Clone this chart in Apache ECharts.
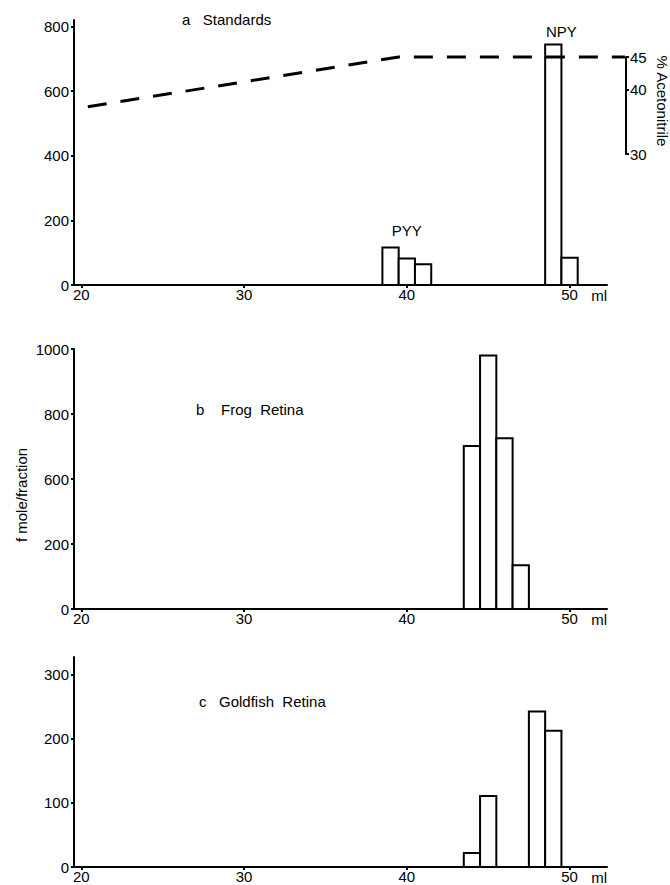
<!DOCTYPE html>
<html>
<head>
<meta charset="utf-8">
<title>NPY / PYY elution profiles</title>
<script src="https://cdn.jsdelivr.net/npm/echarts@6/dist/echarts.min.js"></script>
<style>
  html, body { margin: 0; padding: 0; background: #fff; }
  #chart { width: 670px; height: 885px; }
</style>
</head>
<body>
<div id="chart"></div>
<script>
// fractions (ml) and f mole/fraction per panel
const fractionsA = [39, 40, 41, 49, 50];
const valuesA = [116, 82, 64, 744, 84];
const fractionsB = [44, 45, 46, 47];
const valuesB = [627, 975, 657, 168];
const fractionsC = [44, 45, 48, 49];
const valuesC = [22, 111, 243, 213];

// axis ticks
const xTicks = [20, 30, 40, 50];
const yTicksA = [0, 200, 400, 600, 800];
const yTicksB = [0, 250, 500, 750, 1000];
const yTickLabelsB = ["0", "200", "600", "800", "1000"];
const yTicksC = [0, 100, 200, 300];
const acnTicks = [30, 40, 45];

// acetonitrile gradient, panel a
const gradientMl = [20.4, 39.5, 53.4];
const gradientPct = [37.3, 45, 45];

// peak names, placed in panel a data space
const peakNames = ["PYY", "NPY"];
const peakMl = [40, 49.5];
const peakLevel = [170, 783];

const FONT = '"Liberation Sans", Arial, Helvetica, sans-serif';
const FRACTION_ML = 1;
const X_MIN = 19.55;
const X_MAX = 52.3;
const GRID_LEFT = 74;
const GRID_RIGHT = 63;
const ACN_AXIS_X = 626;

const plotWidth = 670 - GRID_LEFT - GRID_RIGHT;
const acnXMax = X_MIN + (ACN_AXIS_X - GRID_LEFT) * (X_MAX - X_MIN) / plotWidth;

const txt = { color: "#000", fontFamily: FONT, fontSize: 15 };
const blackLine = { lineStyle: { color: "#000", width: 2 } };

function xAxis(gridIndex) {
  return {
    type: "value", gridIndex, min: X_MIN, max: X_MAX,
    axisLine: { show: true, onZero: false, ...blackLine },
    axisTick: { show: true, length: 3, customValues: xTicks, ...blackLine },
    axisLabel: { ...txt, margin: 2, customValues: xTicks },
    splitLine: { show: false },
    name: "ml", nameLocation: "end", nameGap: 0,
    nameTextStyle: { ...txt, align: "right", verticalAlign: "top", padding: [3, 0, 0, 0] },
  };
}

function yAxis(gridIndex, max, ticks, labels) {
  return {
    type: "value", gridIndex, min: 0, max,
    axisLine: { show: true, ...blackLine },
    axisTick: { show: true, length: 3, customValues: ticks, ...blackLine },
    axisLabel: {
      ...txt, margin: 5, customValues: ticks,
      formatter: (v) => (labels ? labels[ticks.indexOf(v)] : String(v)),
    },
    splitLine: { show: false },
  };
}

function barSeries(idx, ml, vals) {
  return {
    type: "custom", xAxisIndex: idx, yAxisIndex: idx, z: 3,
    data: ml.map((m, i) => [m, vals[i]]),
    renderItem(params, api) {
      const m = api.value(0);
      const p0 = api.coord([m - FRACTION_ML / 2, 0]);
      const p1 = api.coord([m + FRACTION_ML / 2, api.value(1)]);
      return {
        type: "rect",
        shape: { x: p0[0], y: p1[1], width: p1[0] - p0[0], height: p0[1] - p1[1] },
        style: { fill: "#fff", stroke: "#000", lineWidth: 2 },
      };
    },
  };
}

function sideText(text, x, y, rotation) {
  return {
    type: "text", x, y, rotation,
    style: { text, fill: "#000", font: "15px " + FONT, align: "center", verticalAlign: "middle" },
  };
}

function panelTitle(text, left, top) {
  return { type: "text", left, top, style: { text, fill: "#000", font: "15px " + FONT } };
}

const chart = echarts.init(document.getElementById("chart"), null, { renderer: "svg" });
chart.setOption({
  animation: false,
  backgroundColor: "#fff",
  grid: [
    { left: GRID_LEFT, right: GRID_RIGHT, top: 20, height: 265 },
    { left: GRID_LEFT, right: GRID_RIGHT, top: 349, height: 260 },
    { left: GRID_LEFT, right: GRID_RIGHT, top: 657, height: 211 },
    { left: GRID_LEFT, right: 670 - ACN_AXIS_X, top: 57, height: 97 },
  ],
  xAxis: [
    xAxis(0), xAxis(1), xAxis(2),
    { type: "value", gridIndex: 3, min: X_MIN, max: acnXMax, show: false },
  ],
  yAxis: [
    yAxis(0, 820, yTicksA),
    yAxis(1, 1000, yTicksB, yTickLabelsB),
    yAxis(2, 328, yTicksC),
    {
      type: "value", gridIndex: 3, min: 30, max: 45, position: "right",
      axisLine: { show: true, ...blackLine },
      axisTick: { show: true, length: 3, customValues: acnTicks, ...blackLine },
      axisLabel: { ...txt, margin: 4, customValues: acnTicks },
      splitLine: { show: false },
    },
  ],
  graphic: [
    panelTitle("a   Standards", 182, 12),
    panelTitle("b    Frog  Retina", 196, 402),
    panelTitle("c   Goldfish  Retina", 199, 694),
    sideText("f mole/fraction", 21, 495, Math.PI / 2),
    sideText("% Acetonitrile", 662, 101, -Math.PI / 2),
  ],
  series: [
    barSeries(0, fractionsA, valuesA),
    barSeries(1, fractionsB, valuesB),
    barSeries(2, fractionsC, valuesC),
    {
      type: "line", xAxisIndex: 3, yAxisIndex: 3, z: 5, clip: false,
      symbol: "none",
      data: gradientMl.map((m, i) => [m, gradientPct[i]]),
      lineStyle: { color: "#000", width: 3, type: [19, 14] },
    },
    {
      type: "custom", xAxisIndex: 0, yAxisIndex: 0, z: 6,
      data: peakMl.map((m, i) => [m, peakLevel[i]]),
      renderItem(params, api) {
        const p = api.coord([api.value(0), api.value(1)]);
        return {
          type: "text", x: p[0], y: p[1],
          style: { text: peakNames[params.dataIndex], fill: "#000", font: "15px " + FONT, align: "center", verticalAlign: "middle" },
        };
      },
    },
  ],
});
</script>
</body>
</html>
